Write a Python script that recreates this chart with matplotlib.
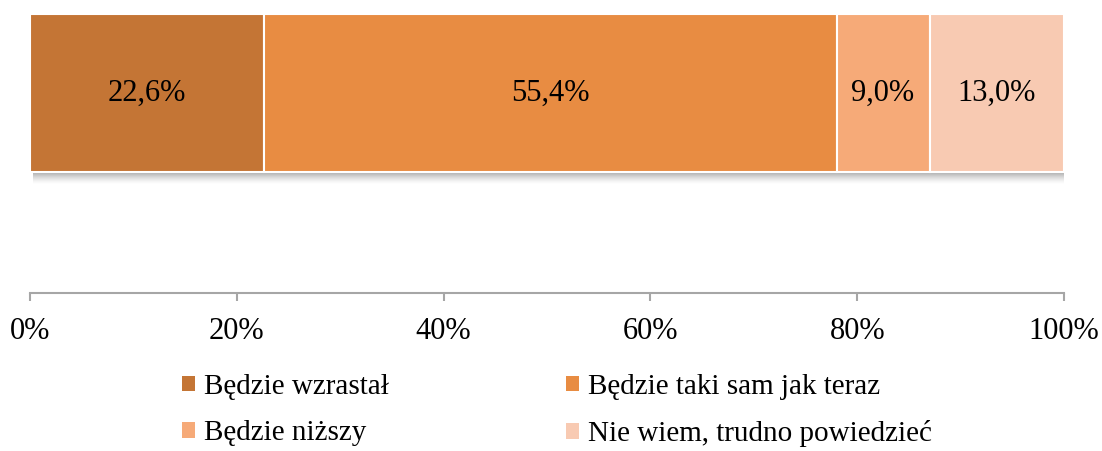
import matplotlib
matplotlib.use("Agg")
import matplotlib.pyplot as plt
from matplotlib.patches import Rectangle, Patch
from matplotlib.ticker import FuncFormatter

categories = ["Będzie wzrastał", "Będzie taki sam jak teraz", "Będzie niższy", "Nie wiem, trudno powiedzieć"]
values = [22.6, 55.4, 9.0, 13.0]
labels = ["22,6%", "55,4%", "9,0%", "13,0%"]
colors = ["#C47535", "#E88C42", "#F6AA78", "#F8CAB2"]
xticks = [0, 20, 40, 60, 80, 100]

plt.rcParams['font.family'] = ['Liberation Serif', 'DejaVu Serif']

fig = plt.figure(figsize=(11.02, 4.51), dpi=100)
ax = fig.add_axes([30/1102, 1-293/451, 1034/1102, 279/451])
ax.set_xlim(0, 100)
ax.set_ylim(0, 1)

bar_y = 0.717
bar_h = 0.566

# soft shadow under the bar
total = sum(values)
px = 1 / 279
bottom = bar_y - bar_h / 2
nstrip = 12
for i in range(nstrip):
    a = 0.32 * (1 - i / nstrip) ** 1.5
    ax.add_patch(Rectangle((0.3, bottom - (i + 1) * px), total - 0.1, px,
                           facecolor="black", alpha=a, edgecolor="none",
                           linewidth=0, zorder=1))

left = 0
for v, c, lab in zip(values, colors, labels):
    ax.barh(bar_y, v, left=left, height=bar_h, color=c, edgecolor="white",
            linewidth=1.5, zorder=2)
    ax.text(left + v/2, bar_y, lab, ha="center", va="center", fontsize=22,
            color="black", zorder=3)
    left += v

for s in ["top", "right", "left"]:
    ax.spines[s].set_visible(False)
ax.spines["bottom"].set_color("#A6A6A6")
ax.spines["bottom"].set_linewidth(1.5)
ax.set_yticks([])
ax.set_xticks(xticks)
ax.xaxis.set_major_formatter(FuncFormatter(lambda x, p: f"{int(x)}%"))
ax.tick_params(axis="x", direction="out", length=6, width=1.5, color="#A6A6A6",
               labelsize=22, pad=11)

handles = [Patch(facecolor=c, edgecolor="none") for c in colors]
common = dict(loc="upper left", frameon=False, fontsize=21, handlelength=0.45,
              handleheight=0.45, handletextpad=0.3, labelspacing=0.7,
              borderpad=0, borderaxespad=0)
leg1 = fig.legend([handles[0], handles[2]], [categories[0], categories[2]],
                  bbox_to_anchor=(182/1102, 1-374/451), **common)
leg2 = fig.legend([handles[1], handles[3]], [categories[1], categories[3]],
                  bbox_to_anchor=(566/1102, 1-374/451), **common)

fig.savefig("out.png", dpi=100)
